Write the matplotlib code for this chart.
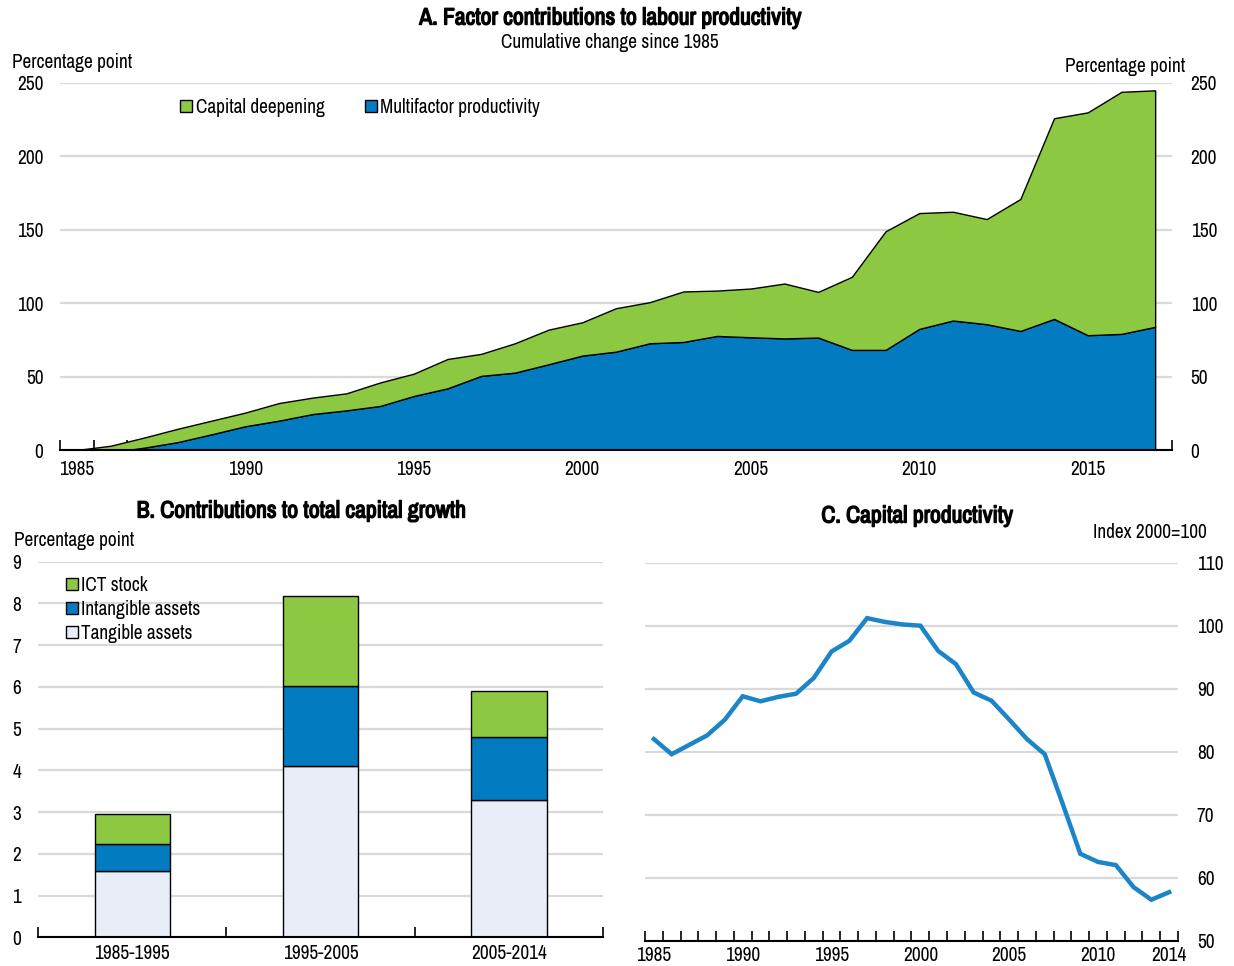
#!/usr/bin/env python3
"""Recreate the three-panel capital / productivity chart."""

import matplotlib
matplotlib.use('Agg')
import matplotlib.pyplot as plt
import matplotlib.patheffects as pe
from matplotlib.patches import Patch
from matplotlib import font_manager
import numpy as np


def is_bold(f):
    w = f.weight
    if isinstance(w, str):
        return 'bold' in w.lower() or 'heavy' in w.lower() or 'black' in w.lower()
    return w >= 600


# pick a narrow face if one is installed
fonts = font_manager.fontManager.ttflist
narrow = sorted({f.name for f in fonts if 'Narrow' in f.name or 'Condensed' in f.name})
body = narrow[0] if narrow else 'Liberation Sans'
has_bold = any(f.name == body and is_bold(f) for f in fonts)
plt.rcParams['font.family'] = [body, 'Liberation Sans', 'DejaVu Sans']

# ---- data -------------------------------------------------------------
years_a = list(range(1985, 2018))
mfp = [0, -1.5, 1.6, 5.4, 10.7, 16.2, 20, 24.5, 27, 30, 36.8, 42, 50.5, 52.7,
       58.4, 64.3, 67, 72.7, 73.6, 77.7, 76.8, 76, 76.6, 68.2, 68.2, 82.5,
       88.2, 85.7, 81.1, 89.3, 78.2, 79.1, 83.9]
cap_deep = [0, 4.4, 6.9, 9.1, 9.3, 9.3, 12, 11.2, 11.6, 16, 15.2, 20, 15, 20,
            23.6, 22.7, 29.6, 28, 34.4, 30.9, 33.2, 37.4, 31.1, 49.8, 80.8,
            78.9, 74.1, 71.6, 89.9, 136.7, 151.8, 164.9, 161.1]

periods = ['1985-1995', '1995-2005', '2005-2014']
tangible = [1.6, 4.1, 3.3]
intangible = [0.63, 1.93, 1.51]
ict = [0.72, 2.16, 1.09]

years_c = list(range(1985, 2015))
cap_prod = [82.0, 79.6, 81.1, 82.6, 85.1, 88.8, 88.0, 88.7, 89.2, 91.7,
            95.9, 97.6, 101.2, 100.6, 100.2, 100.0, 96.0, 93.9, 89.4, 88.1,
            85.1, 82.0, 79.6, 71.8, 63.8, 62.5, 62.0, 58.5, 56.5, 57.7]

# ---- style ------------------------------------------------------------
GREEN = '#8CC841'
BLUE = '#037BC1'
LIGHT = '#E9EDF7'
GRID = '#D9D9D9'
LINE = '#1B85C8'

W, H = 1234, 966
fig = plt.figure(figsize=(W / 100, H / 100), dpi=100)
renderer = fig.canvas.get_renderer()


def fit_size(s, width_px, **kw):
    """Font size that makes text s about width_px wide."""
    t = fig.text(0, 0, s, fontsize=10, **kw)
    w = t.get_window_extent(renderer).width
    t.remove()
    return 10 * width_px / w


FS = round(fit_size('Percentage point', 121), 1)
TFS = round(fit_size('A. Factor contributions to labour productivity', 390 if has_bold else 384,
                     fontweight='bold'), 1)


def box(x0, x1, ytop, ybot):
    return [x0 / W, 1 - ybot / H, (x1 - x0) / W, (ybot - ytop) / H]


def title(x, y, s):
    t = fig.text(x / W, 1 - y / H, s, ha='center', va='center', fontsize=TFS,
                 fontweight='bold')
    if not has_bold:
        t.set_path_effects([pe.withStroke(linewidth=1.0, foreground='black')])
    return t


def base_style(ax):
    for s in ['top', 'left', 'right']:
        ax.spines[s].set_visible(False)
    ax.spines['bottom'].set_linewidth(1.5)
    ax.spines['bottom'].set_zorder(5)
    ax.grid(axis='y', color=GRID, linewidth=1.6, zorder=0)
    ax.set_axisbelow(True)
    ax.tick_params(axis='x', which='major', length=0, pad=7, labelsize=FS)
    ax.tick_params(axis='x', which='minor', length=7, width=1.2,
                   direction='in', color='black')
    ax.tick_params(axis='y', length=0, labelsize=FS)


leg_kw = dict(frameon=False, fontsize=FS, handlelength=0.6, handleheight=0.6,
              handletextpad=0.2, borderaxespad=0, borderpad=0)

# ---- panel A ----------------------------------------------------------
axA = fig.add_axes(box(60, 1172, 83, 450))
base_style(axA)
axA.stackplot(years_a, mfp, cap_deep, colors=[BLUE, GREEN],
              edgecolor='black', linewidth=1.0, zorder=2)
axA.set_xlim(1984.5, 2017.5)
axA.set_ylim(0, 250)
axA.set_yticks(range(0, 251, 50))
axA.set_xticks(range(1985, 2016, 5))
axA.set_xticks(np.arange(1984.5, 2018, 1), minor=True)
axA.tick_params(axis='y', which='both', labelleft=True, labelright=True, pad=12)
axA.legend(handles=[Patch(facecolor=GREEN, edgecolor='black', label='Capital deepening'),
                    Patch(facecolor=BLUE, edgecolor='black', label='Multifactor productivity')],
           loc='upper left', bbox_to_anchor=(0.108, 0.96), ncol=2,
           columnspacing=2.1, **leg_kw)
# right-hand labels sit a bit further out than the left ones
for t in axA.yaxis.get_major_ticks():
    t.label2.set_x(1 + 2 / 1112)

title(610, 18, 'A. Factor contributions to labour productivity')
fig.text(610 / W, 1 - 42 / H, 'Cumulative change since 1985',
         ha='center', va='center', fontsize=FS)
fig.text(12 / W, 1 - 63 / H, 'Percentage point', ha='left', va='center', fontsize=FS)
fig.text(1185 / W, 1 - 67 / H, 'Percentage point', ha='right', va='center', fontsize=FS)

# ---- panel B ----------------------------------------------------------
axB = fig.add_axes(box(38, 603, 561.7, 937.3))
base_style(axB)
xb = np.arange(len(periods))
bw = 0.4
axB.bar(xb, tangible, bw, color=LIGHT, edgecolor='black', linewidth=1.0, zorder=2)
axB.bar(xb, intangible, bw, bottom=tangible, color=BLUE, edgecolor='black',
        linewidth=1.0, zorder=2)
bottom2 = [t + i for t, i in zip(tangible, intangible)]
axB.bar(xb, ict, bw, bottom=bottom2, color=GREEN, edgecolor='black',
        linewidth=1.0, zorder=2)
axB.set_xlim(-0.5, 2.5)
axB.set_ylim(0, 9)
axB.set_yticks(range(0, 10))
axB.set_xticks(xb)
axB.set_xticklabels(periods)
axB.set_xticks([-0.5, 0.5, 1.5, 2.5], minor=True)
axB.tick_params(axis='y', pad=12)
axB.tick_params(axis='x', which='major', pad=5)
axB.legend(handles=[Patch(facecolor=GREEN, edgecolor='black', label='ICT stock'),
                    Patch(facecolor=BLUE, edgecolor='black', label='Intangible assets'),
                    Patch(facecolor=LIGHT, edgecolor='black', label='Tangible assets')],
           loc='upper left', bbox_to_anchor=(0.0496, 0.962), labelspacing=0.25,
           **leg_kw)

title(301, 511, 'B. Contributions to total capital growth')
fig.text(14 / W, 1 - 540 / H, 'Percentage point', ha='left', va='center', fontsize=FS)

# ---- panel C ----------------------------------------------------------
axC = fig.add_axes(box(645, 1178, 562.7, 940.7))
base_style(axC)
axC.plot(years_c, cap_prod, color=LINE, linewidth=3.2, zorder=3,
         solid_joinstyle='miter')
axC.set_xlim(1984.5, 2014.5)
axC.set_ylim(50, 110)
axC.set_yticks(range(50, 111, 10))
axC.yaxis.tick_right()
axC.tick_params(axis='y', pad=13.5)
axC.tick_params(axis='x', which='major', pad=4)
axC.set_xticks([1985, 1990, 1995, 2000, 2005, 2010, 2014])
axC.set_xticks(np.arange(1984.5, 2015, 1), minor=True)

title(917, 516, 'C. Capital productivity')
fig.text(1207 / W, 1 - 533 / H, 'Index 2000=100', ha='right', va='center', fontsize=FS)

fig.savefig('out.png', dpi=100, facecolor='white')
plt.close(fig)
